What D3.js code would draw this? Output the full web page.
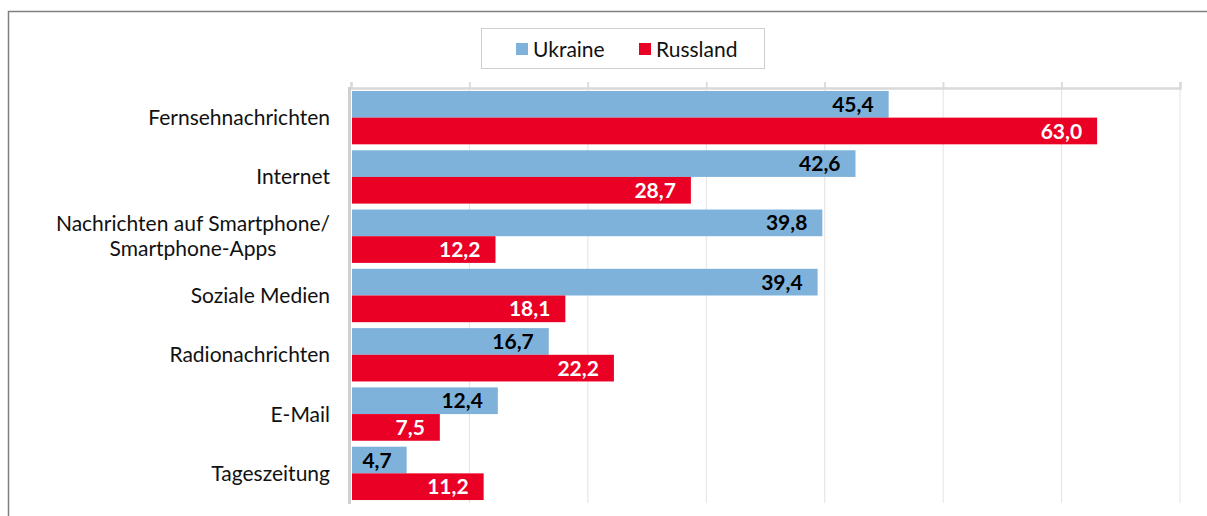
<!DOCTYPE html>
<html>
<head>
<meta charset="utf-8">
<script src="https://cdn.jsdelivr.net/npm/d3@7"></script>
<style>
  body { margin: 0; background: #fff; }
  svg { display: block; font-family: Lato, "Open Sans", sans-serif; }
</style>
</head>
<body>
<div id="chart"></div>
<script>
// Data
const categories = ["Fernsehnachrichten", "Internet", "Nachrichten auf Smartphone/\nSmartphone-Apps",
  "Soziale Medien", "Radionachrichten", "E-Mail", "Tageszeitung"];
const ukraine = [45.4, 42.6, 39.8, 39.4, 16.7, 12.4, 4.7];
const russland = [63.0, 28.7, 12.2, 18.1, 22.2, 7.5, 11.2];
const seriesNames = ["Ukraine", "Russland"];
const xTicks = [0, 10, 20, 30, 40, 50, 60, 70];

const colors = { Ukraine: "#7fb2da", Russland: "#e90024" };

const W = 1207, H = 516;
const svg = d3.select("#chart").append("svg").attr("width", W).attr("height", H);

// outer frame
svg.append("rect").attr("x", 8.5).attr("y", 11.5).attr("width", W + 20).attr("height", H + 20)
  .attr("fill", "none").attr("stroke", "#7f7f7f").attr("stroke-width", 1.5);

const x = d3.scaleLinear().domain([0, 70]).range([351, 1180]);
const y = d3.scaleBand().domain(categories).range([88, 503]).paddingInner(0.1).paddingOuter(0.05);
const sub = d3.scaleBand().domain(seriesNames).range([0, y.bandwidth()]);

// gridlines
svg.append("g").selectAll("line").data(xTicks.slice(1)).join("line")
  .attr("x1", d => x(d)).attr("x2", d => x(d)).attr("y1", 82).attr("y2", 503)
  .attr("stroke", "#e3e3e3").attr("stroke-width", 1);

// top axis
const topAxis = svg.append("g").attr("transform", "translate(0,88)")
  .call(d3.axisTop(x).tickValues(xTicks).tickSize(6).tickFormat(""));
topAxis.select(".domain").attr("stroke", "#d9d9d9").attr("stroke-width", 2.5);
topAxis.selectAll(".tick line").attr("stroke", "#d9d9d9").attr("stroke-width", 1.5);

// left axis line
svg.append("line").attr("x1", 349.5).attr("x2", 349.5).attr("y1", 87).attr("y2", 504)
  .attr("stroke", "#d0d0d0").attr("stroke-width", 3);

// bars
const rows = categories.map((c, i) => ({ cat: c, values: [
  { s: "Ukraine", v: ukraine[i] }, { s: "Russland", v: russland[i] }] }));

const groups = svg.append("g").selectAll("g").data(rows).join("g")
  .attr("transform", d => `translate(0,${y(d.cat)})`);

groups.selectAll("rect").data(d => d.values).join("rect")
  .attr("x", x(0) + 1)
  .attr("y", d => sub(d.s))
  .attr("width", d => x(d.v) - x(0) - 1)
  .attr("height", sub.bandwidth())
  .attr("fill", d => colors[d.s]);

groups.selectAll("text").data(d => d.values).join("text")
  .attr("x", d => x(d.v) - 15)
  .attr("y", d => sub(d.s) + sub.bandwidth() / 2)
  .attr("dy", "0.36em")
  .attr("text-anchor", "end")
  .attr("font-size", 21)
  .attr("font-weight", "bold")
  .attr("fill", d => d.s === "Ukraine" ? "#000" : "#fff")
  .text(d => d3.format(".1f")(d.v).replace(".", ","));

// category labels
const labels = svg.append("g").selectAll("text").data(categories).join("text")
  .attr("font-size", 21)
  .attr("fill", "#111")
  .attr("text-anchor", "middle");

labels.each(function (d) {
  const lines = d.split("\n");
  const t = d3.select(this);
  lines.forEach(l => t.append("tspan").text(l));
  let maxW = 0;
  t.selectAll("tspan").each(function () { maxW = Math.max(maxW, this.getComputedTextLength()); });
  const cx = 330 - maxW / 2;
  const cy = y(d) + y.bandwidth() / 2;
  const lh = 25;
  t.selectAll("tspan")
    .attr("x", cx)
    .attr("y", (l, i) => cy + (i - (lines.length - 1) / 2) * lh)
    .attr("dy", "0.36em");
});

// legend
const legend = svg.append("g");
legend.append("rect").attr("x", 481.5).attr("y", 28.5).attr("width", 283).attr("height", 40)
  .attr("fill", "#fff").attr("stroke", "#cfcfcf").attr("stroke-width", 1);
const legX = { Ukraine: 516, Russland: 639 };
seriesNames.forEach(s => {
  legend.append("rect").attr("x", legX[s]).attr("y", 43).attr("width", 12).attr("height", 12)
    .attr("fill", colors[s]);
  legend.append("text").attr("x", legX[s] + 17).attr("y", 49).attr("dy", "0.36em")
    .attr("font-size", 21).attr("fill", "#111").text(s);
});
</script>
</body>
</html>
